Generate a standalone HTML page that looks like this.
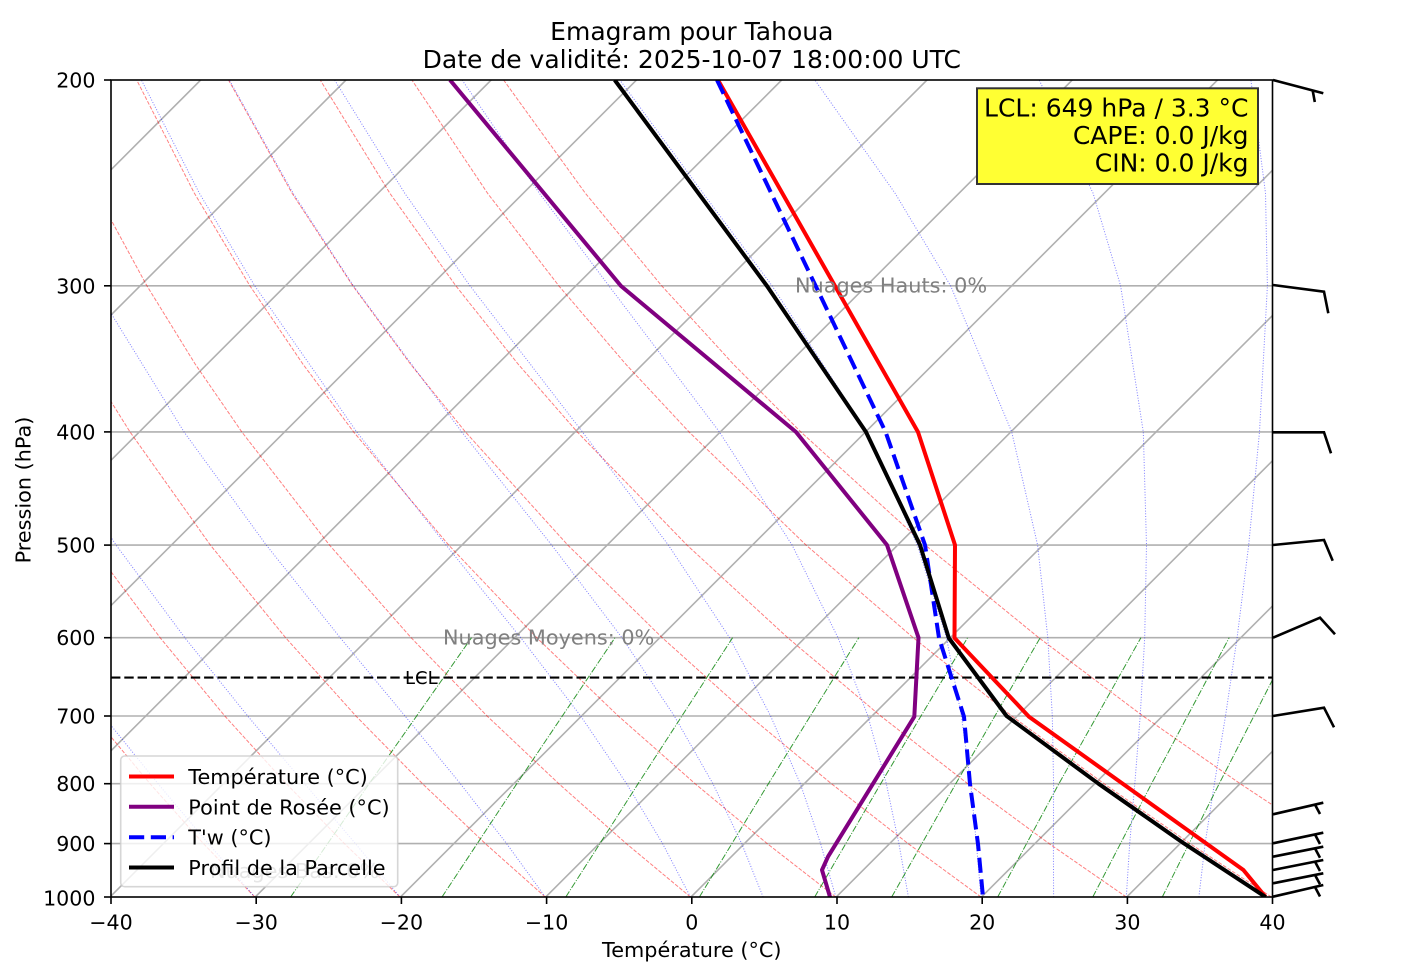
<!DOCTYPE html>
<html><head><meta charset="utf-8"><style>
html,body{margin:0;padding:0;background:#fff;}
svg{display:block;}
text{font-family:"DejaVu Sans","Liberation Sans",sans-serif;}
</style></head><body>
<svg width="1404" height="978" viewBox="0 0 1404 978" xmlns="http://www.w3.org/2000/svg">
<defs><clipPath id="c"><rect x="111" y="80" width="1161.5" height="817"/></clipPath></defs>
<rect width="1404" height="978" fill="#fff"/>
<g clip-path="url(#c)">
<!-- isotherms -->
<g stroke="#b0b0b0" stroke-width="1.6" fill="none">
<line x1="-616.3" y1="897" x2="200.7" y2="80"/>
<line x1="-471" y1="897" x2="346" y2="80"/>
<line x1="-325.8" y1="897" x2="491.2" y2="80"/>
<line x1="-180.5" y1="897" x2="636.5" y2="80"/>
<line x1="-35.3" y1="897" x2="781.7" y2="80"/>
<line x1="110" y1="897" x2="927" y2="80"/>
<line x1="255.25" y1="897" x2="1072.25" y2="80"/>
<line x1="400.5" y1="897" x2="1217.5" y2="80"/>
<line x1="545.75" y1="897" x2="1362.75" y2="80"/>
<line x1="691" y1="897" x2="1508" y2="80"/>
<line x1="836.25" y1="897" x2="1653.25" y2="80"/>
<line x1="981.5" y1="897" x2="1798.5" y2="80"/>
<line x1="1126.75" y1="897" x2="1943.75" y2="80"/>
<line x1="100" y1="285.8" x2="1280" y2="285.8"/>
<line x1="100" y1="431.9" x2="1280" y2="431.9"/>
<line x1="100" y1="545.1" x2="1280" y2="545.1"/>
<line x1="100" y1="637.7" x2="1280" y2="637.7"/>
<line x1="100" y1="716" x2="1280" y2="716"/>
<line x1="100" y1="783.7" x2="1280" y2="783.7"/>
<line x1="100" y1="843.6" x2="1280" y2="843.6"/>
</g>
<!-- dry adiabats -->
<g stroke="#ff0000" stroke-opacity="0.5" stroke-width="1" fill="none" stroke-dasharray="3.8 1.6">
<polyline points="254.8,897 203.4,843.6 150.0,783.7 93.6,716"/>
<polyline points="400.0,897 344.4,843.6 286.3,783.7 224.8,716 160.1,637.7 91.2,545.1"/>
<polyline points="545.3,897 485.3,843.6 422.5,783.7 355.9,716 285.6,637.7 210.4,545.1 130.0,431.9 87.6,364.1"/>
<polyline points="690.5,897 626.3,843.6 558.8,783.7 487.1,716 411.1,637.7 329.5,545.1 241.8,431.9 195.2,364.1 146.9,285.8 96.6,193.3"/>
<polyline points="835.8,897 767.2,843.6 695.1,783.7 618.3,716 536.7,637.7 448.7,545.1 353.6,431.9 302.9,364.1 249.9,285.8 194.4,193.3 136.7,80"/>
<polyline points="981.0,897 908.1,843.6 831.4,783.7 749.5,716 662.2,637.7 567.8,545.1 465.4,431.9 410.5,364.1 352.8,285.8 292.1,193.3 228.5,80"/>
<polyline points="1126.3,897 1049.1,843.6 967.7,783.7 880.7,716 787.7,637.7 687.0,545.1 577.2,431.9 518.1,364.1 455.8,285.8 389.9,193.3 320.2,80"/>
<polyline points="1271.5,897 1190.0,843.6 1104.0,783.7 1011.8,716 913.2,637.7 806.1,545.1 689.0,431.9 625.7,364.1 558.8,285.8 487.6,193.3 411.9,80"/>
<polyline points="1416.8,897 1331.0,843.6 1240.2,783.7 1143.0,716 1038.8,637.7 925.3,545.1 800.8,431.9 733.3,364.1 661.7,285.8 585.4,193.3 503.6,80"/>
</g>
<!-- moist adiabats -->
<g stroke="#0000ff" stroke-opacity="0.5" stroke-width="1" fill="none" stroke-dasharray="1 1.7">
<polyline points="254.8,897 208.4,843.6 158.0,783.7 103.4,716"/>
<polyline points="400.0,897 355.4,843.6 304.7,783.7 247.7,716 184.8,637.7 116.1,545.1 42,431.9"/>
<polyline points="545.3,897 506.6,843.6 460.4,783.7 405.0,716 340.2,637.7 266.3,545.1 184.0,431.9 94.1,285.8"/>
<polyline points="690.5,897 662.6,843.6 626.6,783.7 580.7,716 520.7,637.7 446.1,545.1 356.7,431.9 254.7,285.8 199.4,193.3 141.4,80"/>
<polyline points="763.1,897 741.7,843.6 712.9,783.7 674.3,716 622.0,637.7 551.7,545.1 461.7,431.9 353.4,285.8 293.2,193.3 229.3,80"/>
<polyline points="835.8,897 820.6,843.6 800.3,783.7 770.6,716 729.6,637.7 668.4,545.1 582.4,431.9 470.0,285.8 404.8,193.3 334.6,80"/>
<polyline points="908.4,897 898.9,843.6 886.3,783.7 867.9,716 838.0,637.7 792.1,545.1 719.4,431.9 608.9,285.8 539.4,193.3 462.1,80"/>
<polyline points="981.0,897 976.4,843.6 970.7,783.7 961.4,716 946.5,637.7 917.3,545.1 866.6,431.9 772.1,285.8 703.1,193.3 619.9,80"/>
<polyline points="1053.6,897 1053.4,843.6 1053.6,783.7 1052.3,716 1047.8,637.7 1037.6,545.1 1011.7,431.9 950.6,285.8 895.1,193.3 814.9,80"/>
<polyline points="1126.3,897 1129.7,843.6 1134.8,783.7 1140.2,716 1144.7,637.7 1146.5,545.1 1143.3,431.9 1120.6,285.8 1093.1,193.3 1039.2,80"/>
<polyline points="1198.9,897 1205.1,843.6 1214.4,783.7 1225.5,716 1237.1,637.7 1248.7,545.1 1259.5,431.9 1267.4,285.8 1265.5,193.3 1250.9,80"/>
</g>
<!-- mixing ratio lines -->
<g stroke="#008000" stroke-opacity="0.8" stroke-width="1" fill="none" stroke-dasharray="6.6 1.6 1 1.6">
<polyline points="290.6,897 369.2,783.7 471.5,637.7"/>
<polyline points="442,897 516.8,783.7 615,637.7"/>
<polyline points="565.8,897 638.1,783.7 732.6,637.7"/>
<polyline points="699.4,897 768.4,783.7 858.8,637.7"/>
<polyline points="814.7,897 880.7,783.7 967.6,637.7"/>
<polyline points="891.7,897 955.8,783.7 1040.2,637.7"/>
<polyline points="997.7,897 1058.9,783.7 1140.9,637.7"/>
<polyline points="1092.8,897 1151.5,783.7 1229.2,637.7"/>
<polyline points="1162.3,897 1219.2,783.7 1294.1,637.7"/>
</g>
<!-- LCL line -->
<line x1="111" y1="677.6" x2="1273" y2="677.6" stroke="#000" stroke-width="2.1" stroke-dasharray="9.4 3.9"/>
<!-- data lines -->
<g fill="none" stroke-width="4" stroke-linejoin="round" stroke-linecap="butt">
<polyline stroke="#ff0000" points="718,80 835,286 918,432 955,545 954.5,638 1029,716.7 1206.5,843.6 1243.4,870 1265.6,897"/>
<polyline stroke="#800080" points="450,80 621,286 796,432 887,545 918.5,637.7 914.3,716.7 828,856.7 822,870 830,897"/>
<polyline stroke="#0000ff" stroke-dasharray="15.2 6.6" points="717,80 815.7,286 885.6,432 925,545 939,638 964,716.7 970,784 978,844 983,897"/>
<polyline stroke="#000000" points="614.7,80 767,286 866,432 920,545 948.8,638 1006.6,716 1098.5,783.7 1184.2,843.6 1265.6,897"/>
</g>
</g>
<!-- LCL label -->
<text x="405" y="684" font-size="18" fill="#000">LCL</text>
<!-- cloud texts -->
<g font-size="20.8">
<text x="795" y="292.5" fill="#808080">Nuages Hauts: 0%</text>
<text x="443" y="644.5" fill="#808080">Nuages Moyens: 0%</text>
<text x="210" y="878" fill="#808080">Nuages Bas: 0%</text>
</g>
<!-- spines -->
<rect x="111" y="80" width="1161.5" height="817" fill="none" stroke="#000" stroke-width="1.6"/>
<!-- ticks -->
<g stroke="#000" stroke-width="1.6">
<line x1="104" y1="80" x2="111" y2="80"/>
<line x1="104" y1="285.8" x2="111" y2="285.8"/>
<line x1="104" y1="431.9" x2="111" y2="431.9"/>
<line x1="104" y1="545.1" x2="111" y2="545.1"/>
<line x1="104" y1="637.7" x2="111" y2="637.7"/>
<line x1="104" y1="716" x2="111" y2="716"/>
<line x1="104" y1="783.7" x2="111" y2="783.7"/>
<line x1="104" y1="843.6" x2="111" y2="843.6"/>
<line x1="104" y1="897" x2="111" y2="897"/>
<line x1="111" y1="897" x2="111" y2="904"/>
<line x1="256.2" y1="897" x2="256.2" y2="904"/>
<line x1="401.4" y1="897" x2="401.4" y2="904"/>
<line x1="546.6" y1="897" x2="546.6" y2="904"/>
<line x1="691.8" y1="897" x2="691.8" y2="904"/>
<line x1="837" y1="897" x2="837" y2="904"/>
<line x1="982.2" y1="897" x2="982.2" y2="904"/>
<line x1="1127.4" y1="897" x2="1127.4" y2="904"/>
<line x1="1272.5" y1="897" x2="1272.5" y2="904"/>
</g>
<g font-size="20.6" text-anchor="end" fill="#000">
<text x="95.5" y="87.5">200</text>
<text x="95.5" y="293.3">300</text>
<text x="95.5" y="439.4">400</text>
<text x="95.5" y="552.6">500</text>
<text x="95.5" y="645.2">600</text>
<text x="95.5" y="723.5">700</text>
<text x="95.5" y="791.2">800</text>
<text x="95.5" y="851.1">900</text>
<text x="95.5" y="905.5">1000</text>
</g>
<g font-size="20.6" text-anchor="middle" fill="#000">
<text x="111" y="929.3">−40</text>
<text x="256.2" y="929.3">−30</text>
<text x="401.4" y="929.3">−20</text>
<text x="546.6" y="929.3">−10</text>
<text x="691.8" y="929.3">0</text>
<text x="837" y="929.3">10</text>
<text x="982.2" y="929.3">20</text>
<text x="1127.4" y="929.3">30</text>
<text x="1272.5" y="929.3">40</text>
</g>
<!-- axis labels -->
<text x="691.8" y="957" font-size="20.8" text-anchor="middle" fill="#000">Température (°C)</text>
<text transform="translate(30.5,490) rotate(-90)" font-size="20.8" text-anchor="middle" fill="#000">Pression (hPa)</text>
<!-- title -->
<text x="691.8" y="40" font-size="25" text-anchor="middle" fill="#000">Emagram pour Tahoua</text>
<text x="691.8" y="68" font-size="25" text-anchor="middle" fill="#000">Date de validité: 2025-10-07 18:00:00 UTC</text>
<!-- wind barbs -->
<g stroke="#000" stroke-width="2.6" fill="none" stroke-linejoin="miter">
<polyline points="1273,80 1323.3,93.3"/><line x1="1312.7" y1="90.6" x2="1314.8" y2="102"/>
<polyline points="1273,285 1324,291.7 1328.3,313.3"/>
<polyline points="1273,432.3 1324,432.3 1331,453.3"/>
<polyline points="1273,545 1324,540 1332.7,560.7"/>
<polyline points="1273,637.7 1320,617.7 1335,634.3"/>
<polyline points="1273,716 1324,707.7 1334,727.3"/>
<polyline points="1273,814.3 1323.3,802.7"/><line x1="1315" y1="804.6" x2="1320" y2="814"/>
<polyline points="1273,843.3 1323.3,832.7"/><line x1="1315" y1="834.5" x2="1320" y2="844"/>
<polyline points="1273,856.7 1323.3,846.7"/><line x1="1315" y1="848.4" x2="1320" y2="857.7"/>
<polyline points="1273,870 1323.3,860"/><line x1="1315" y1="861.6" x2="1320" y2="871"/>
<polyline points="1273,883.3 1323.3,873.3"/><line x1="1315" y1="875" x2="1320" y2="884.3"/>
<polyline points="1273,896.7 1323.3,885"/><line x1="1315" y1="887" x2="1320" y2="896.5"/>
</g>
<!-- legend -->
<rect x="120.7" y="756" width="277" height="130.7" rx="4" ry="4" fill="#fff" fill-opacity="0.8" stroke="#cccccc" stroke-opacity="0.8" stroke-width="1.6"/>
<g stroke-width="4" fill="none">
<line x1="129" y1="776.5" x2="174" y2="776.5" stroke="#ff0000"/>
<line x1="129" y1="806.8" x2="174" y2="806.8" stroke="#800080"/>
<line x1="129" y1="837.2" x2="174" y2="837.2" stroke="#0000ff" stroke-dasharray="15.2 6.6"/>
<line x1="129" y1="867.5" x2="174" y2="867.5" stroke="#000"/>
</g>
<g font-size="20.8" fill="#000">
<text x="188.3" y="784">Température (°C)</text>
<text x="188.3" y="814.3">Point de Rosée (°C)</text>
<text x="188.3" y="844.7">T'w (°C)</text>
<text x="188.3" y="875">Profil de la Parcelle</text>
</g>
<!-- info box -->
<rect x="977" y="88.3" width="281" height="95.7" fill="#ffff33" stroke="#333333" stroke-width="2"/>
<g font-size="25" text-anchor="end" fill="#000">
<text x="1248.5" y="116.3">LCL: 649 hPa / 3.3 °C</text>
<text x="1248.5" y="144">CAPE: 0.0 J/kg</text>
<text x="1248.5" y="171.7">CIN: 0.0 J/kg</text>
</g>
</svg>
</body></html>
